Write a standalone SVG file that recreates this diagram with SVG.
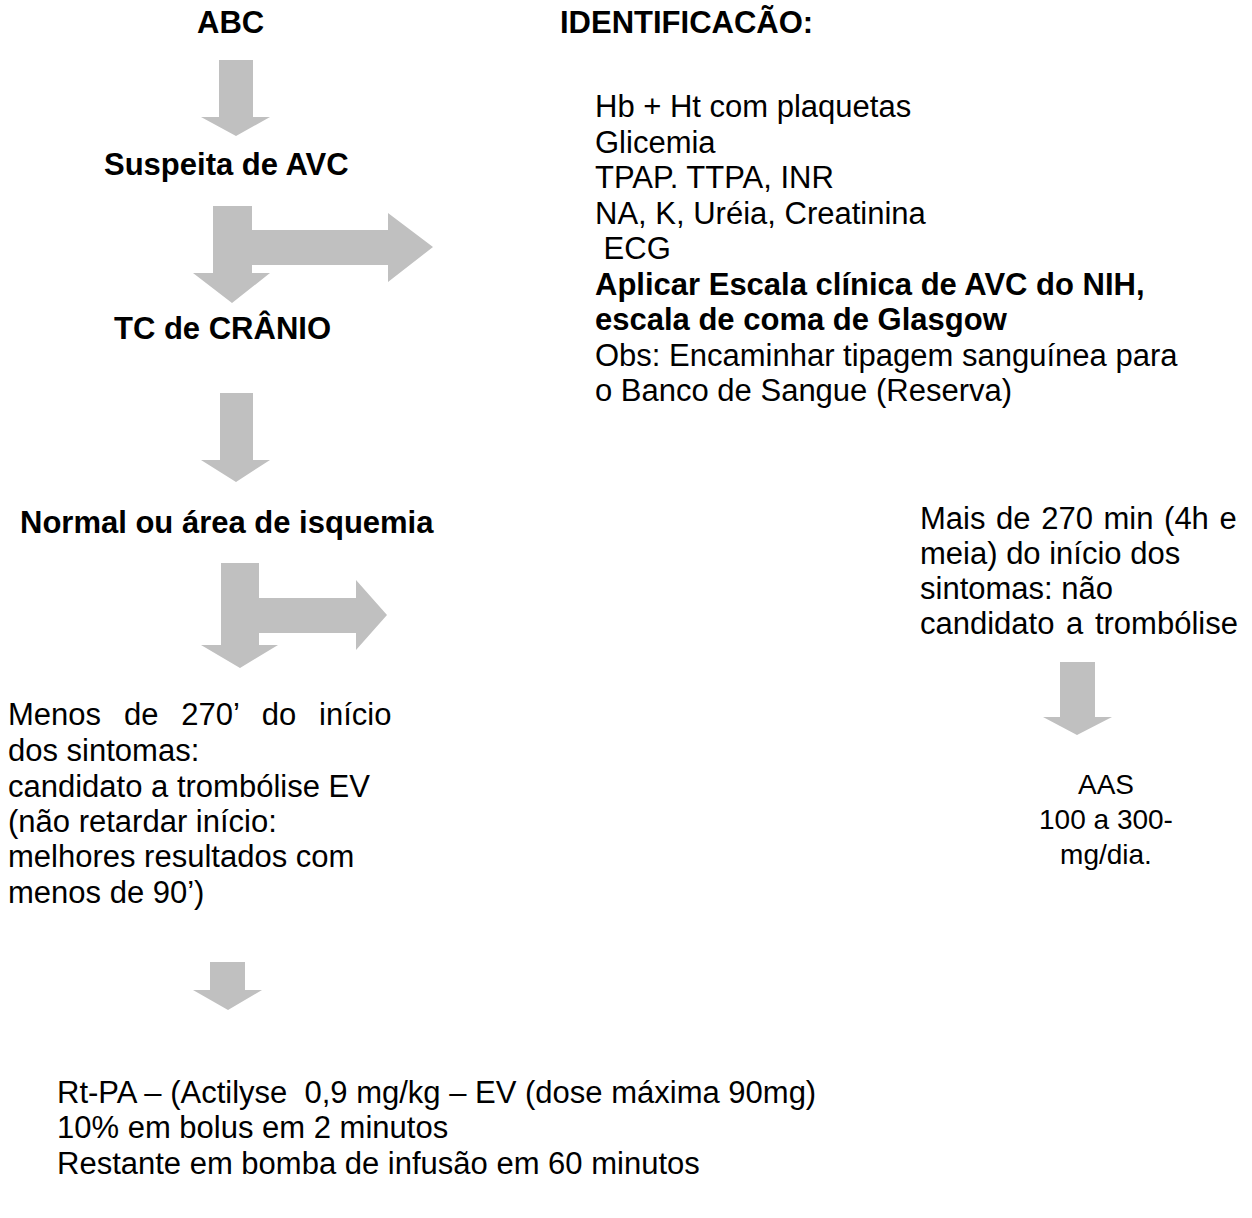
<svg xmlns="http://www.w3.org/2000/svg" width="1252" height="1218" viewBox="0 0 1252 1218">
<style>
  text { font-family: "Liberation Sans", Arial, sans-serif; font-size: 31px; fill: #000; }
  .b { font-weight: bold; }
  .s { font-size: 28px; }
  .arrow { fill: #c0c0c0; stroke: none; }
</style>
<rect x="0" y="0" width="1252" height="1218" fill="#ffffff"/>
<g id="connectors">
  <polygon class="arrow" points="219,60 253,60 253,117 270,117 236,136 201,117 219,117"/>
  <polygon class="arrow" points="213,206 252,206 252,230 388,230 388,213 433,247 388,282 388,265 252,265 252,273 270,273 232,303 193,273 213,273"/>
  <polygon class="arrow" points="220,393 253,393 253,460 270,460 236,482 201,460 220,460"/>
  <polygon class="arrow" points="221,563 259,563 259,598 356,598 356,580 387,615 356,650 356,633 259,633 259,645 278,645 240,668 201,645 221,645"/>
  <polygon class="arrow" points="1060,662 1095,662 1095,717 1112,717 1077,735 1043,717 1060,717"/>
  <polygon class="arrow" points="210,962 245,962 245,990 262,990 228,1010 193,990 210,990"/>
</g>
<g id="abc"><text class="b" x="197" y="33">ABC</text></g>
<g id="suspeita"><text class="b" x="104" y="175">Suspeita de AVC</text></g>
<g id="tc"><text class="b" x="114" y="339">TC de CRÂNIO</text></g>
<g id="normal"><text class="b" x="20" y="533">Normal ou área de isquemia</text></g>
<g id="identificacao">
  <text class="b" x="560" y="33">IDENTIFICACÃO:</text>
  <text x="595" y="117">Hb + Ht com plaquetas</text>
  <text x="595" y="153">Glicemia</text>
  <text x="595" y="188">TPAP. TTPA, INR</text>
  <text x="595" y="224">NA, K, Uréia, Creatinina</text>
  <text x="595" y="259" xml:space="preserve"> ECG</text>
  <text class="b" x="595" y="295">Aplicar Escala clínica de AVC do NIH,</text>
  <text class="b" x="595" y="330">escala de coma de Glasgow</text>
  <text x="595" y="366">Obs: Encaminhar tipagem sanguínea para</text>
  <text x="595" y="401">o Banco de Sangue (Reserva)</text>
</g>
<g id="mais270">
  <text x="920" y="529" word-spacing="2">Mais de 270 min (4h e</text>
  <text x="920" y="564">meia) do início dos</text>
  <text x="920" y="599">sintomas: não</text>
  <text x="920" y="634" word-spacing="3">candidato a trombólise</text>
</g>
<g id="aas">
  <text class="s" x="1106" y="794" text-anchor="middle">AAS</text>
  <text class="s" x="1106" y="829" text-anchor="middle">100 a 300-</text>
  <text class="s" x="1106" y="864" text-anchor="middle">mg/dia.</text>
</g>
<g id="menos270">
  <text x="8" y="725" word-spacing="14.3">Menos de 270’ do início</text>
  <text x="8" y="761">dos sintomas:</text>
  <text x="8" y="797">candidato a trombólise EV</text>
  <text x="8" y="832">(não retardar início:</text>
  <text x="8" y="867">melhores resultados com</text>
  <text x="8" y="903">menos de 90’)</text>
</g>
<g id="rtpa">
  <text x="57" y="1103" xml:space="preserve">Rt-PA – (Actilyse  0,9 mg/kg – EV (dose máxima 90mg)</text>
  <text x="57" y="1138">10% em bolus em 2 minutos</text>
  <text x="57" y="1174">Restante em bomba de infusão em 60 minutos</text>
</g>
</svg>
